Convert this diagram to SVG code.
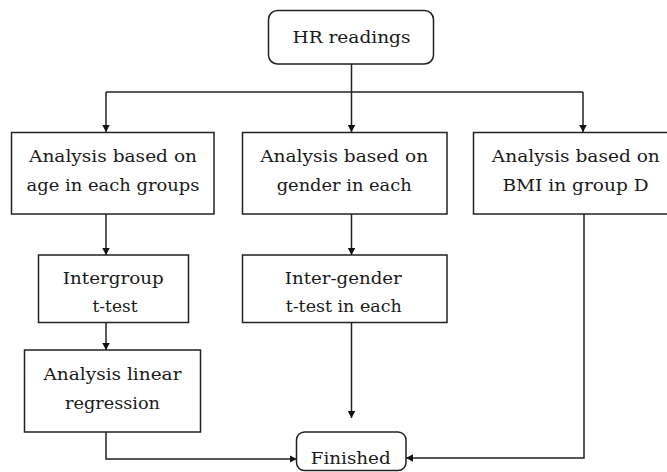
<svg xmlns="http://www.w3.org/2000/svg" width="667" height="472" viewBox="0 0 667 472">
  <style>
    .box { fill: #ffffff; stroke: #222222; stroke-width: 1.5; }
    .lbl { font-family: 'DejaVu Serif', serif; font-size: 17px; fill: #1a1a1a; text-anchor: middle; }
    .edge { fill: none; stroke: #222222; stroke-width: 1.5; }
  </style>
  <defs>
    <marker id="arrow" markerUnits="userSpaceOnUse" markerWidth="8" markerHeight="8" refX="7" refY="3.75" orient="auto">
      <path d="M0,0 L7,3.75 L0,7.5 z" fill="#111111"/>
    </marker>
  </defs>

  <rect width="667" height="472" fill="#ffffff"/>

  <!-- connectors -->
  <g id="connectors">
    <path class="edge" d="M351.5 64 V92"/>
    <path class="edge" d="M106 92 H583"/>
    <path class="edge" d="M106 92 V132" marker-end="url(#arrow)"/>
    <path class="edge" d="M351.5 92 V132" marker-end="url(#arrow)"/>
    <path class="edge" d="M583 92 V132" marker-end="url(#arrow)"/>
    <path class="edge" d="M106 214 V255" marker-end="url(#arrow)"/>
    <path class="edge" d="M106 322 V350" marker-end="url(#arrow)"/>
    <path class="edge" d="M106 432 V459 H296.5" marker-end="url(#arrow)"/>
    <path class="edge" d="M351.5 214 V255" marker-end="url(#arrow)"/>
    <path class="edge" d="M351.5 322 V418" marker-end="url(#arrow)"/>
    <path class="edge" d="M584 214 V458 H406" marker-end="url(#arrow)"/>
  </g>

  <g id="hr-readings">
    <rect class="box" x="268.5" y="10.5" width="165" height="53.5" rx="9"/>
    <text class="lbl" x="351.5" y="43" textLength="118" lengthAdjust="spacingAndGlyphs">HR readings</text>
  </g>

  <g id="age-analysis">
    <rect class="box" x="11.5" y="132.5" width="202.5" height="81.5"/>
    <text class="lbl" x="113" y="162" textLength="168" lengthAdjust="spacingAndGlyphs">Analysis based on</text>
    <text class="lbl" x="113" y="191" textLength="173" lengthAdjust="spacingAndGlyphs">age in each groups</text>
  </g>

  <g id="gender-analysis">
    <rect class="box" x="242.5" y="132.5" width="204.5" height="81.5"/>
    <text class="lbl" x="344.2" y="162" textLength="168" lengthAdjust="spacingAndGlyphs">Analysis based on</text>
    <text class="lbl" x="344.2" y="191" textLength="135" lengthAdjust="spacingAndGlyphs">gender in each</text>
  </g>

  <g id="bmi-analysis">
    <rect class="box" x="473.5" y="132.5" width="200" height="81.5"/>
    <text class="lbl" x="575.8" y="162" textLength="168" lengthAdjust="spacingAndGlyphs">Analysis based on</text>
    <text class="lbl" x="575.5" y="191" textLength="146" lengthAdjust="spacingAndGlyphs">BMI in group D</text>
  </g>

  <g id="intergroup-ttest">
    <rect class="box" x="38.5" y="255" width="150" height="67.5"/>
    <text class="lbl" x="113.3" y="283.5" textLength="101" lengthAdjust="spacingAndGlyphs">Intergroup</text>
    <text class="lbl" x="115" y="312" textLength="45" lengthAdjust="spacingAndGlyphs">t-test</text>
  </g>

  <g id="intergender-ttest">
    <rect class="box" x="242.5" y="255" width="204.5" height="67.5"/>
    <text class="lbl" x="343.3" y="283.5" textLength="117" lengthAdjust="spacingAndGlyphs">Inter-gender</text>
    <text class="lbl" x="343.7" y="312" textLength="116" lengthAdjust="spacingAndGlyphs">t-test in each</text>
  </g>

  <g id="linear-regression">
    <rect class="box" x="24.5" y="350" width="176" height="82"/>
    <text class="lbl" x="112.5" y="379.5" textLength="138" lengthAdjust="spacingAndGlyphs">Analysis linear</text>
    <text class="lbl" x="112.5" y="408.5" textLength="95" lengthAdjust="spacingAndGlyphs">regression</text>
  </g>

  <g id="finished">
    <rect class="box" x="296.5" y="432" width="109.5" height="38.5" rx="8"/>
    <text class="lbl" x="350.7" y="463.5" textLength="80" lengthAdjust="spacingAndGlyphs">Finished</text>
  </g>
</svg>
